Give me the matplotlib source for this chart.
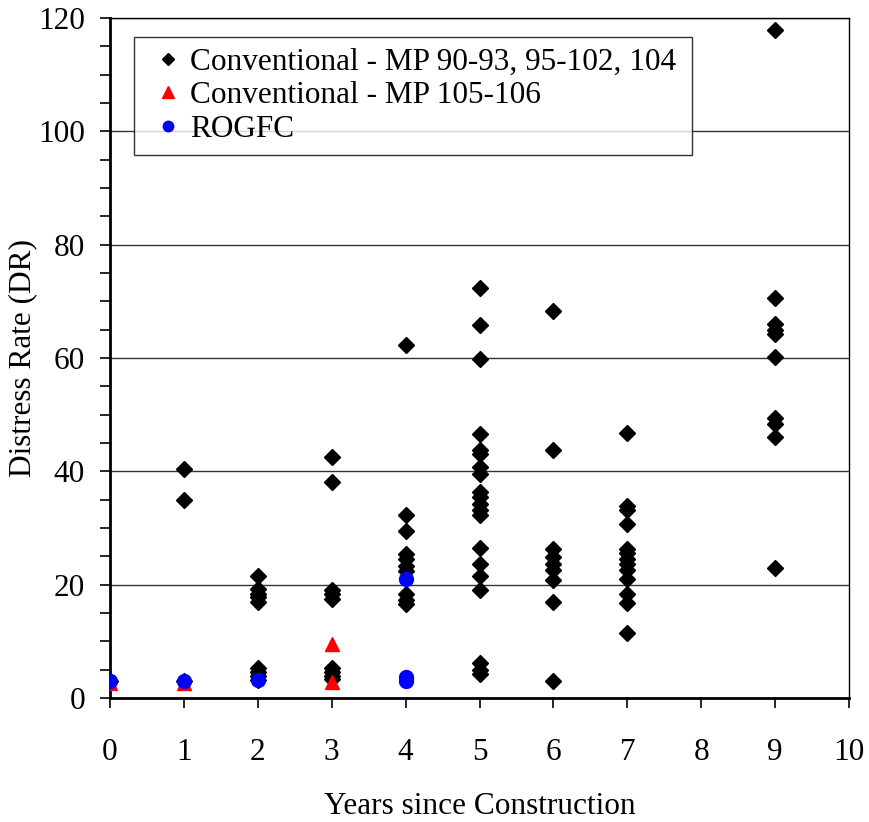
"""
Distress rate vs. years since construction
"""
import numpy as np
import matplotlib
matplotlib.use('Agg')
import matplotlib.pyplot as plt
from matplotlib.ticker import MultipleLocator

plt.rcParams['font.family'] = ['Liberation Serif', 'DejaVu Serif']

# Conventional - MP 90-93, 95-102, 104
conv_years = ([0, 1, 1, 1]
              + [2] * 9
              + [3] * 9
              + [4] * 10
              + [5] * 20
              + [6] * 9
              + [7] * 13
              + [9] * 10)
conv_dr = ([3.0, 3.0, 40.4, 34.9]
           + [21.5, 19.3, 18.4, 17.8, 16.9, 5.2, 4.5, 3.8, 3.2]
           + [42.5, 38.1, 19.1, 18.4, 17.5, 5.3, 4.6, 3.9, 3.3]
           + [62.3, 32.2, 29.4, 25.4, 24.5, 23.2, 22.4, 18.3, 17.2, 16.6]
           + [72.4, 65.9, 59.9, 46.6, 43.7, 43.0, 40.8, 39.6, 36.4, 35.5,
              34.3, 33.1, 32.2, 26.5, 23.7, 21.6, 19.0, 6.1, 4.9, 4.2]
           + [68.2, 43.8, 26.2, 24.9, 23.7, 22.5, 20.8, 16.9, 2.9]
           + [46.8, 33.8, 33.2, 30.7, 26.2, 25.5, 24.6, 23.7, 22.5, 20.9,
              18.4, 16.8, 11.4]
           + [117.8, 70.5, 66.0, 65.0, 64.3, 60.2, 49.4, 48.3, 46.1, 23.0])

# Conventional - MP 105-106
mp105_years = [0, 1, 3, 3]
mp105_dr = [2.7, 2.7, 9.5, 2.8]

# ROGFC
rogfc_years = [0, 1, 2, 4, 4, 4]
rogfc_dr = [3.0, 3.0, 3.1, 21.0, 3.6, 3.0]

FS = 22.5

fig = plt.figure(figsize=(8.69, 8.22), dpi=100)
ax = fig.add_axes([0.1266, 0.151, 0.8504, 0.8271])

ax.plot(conv_years, conv_dr, linestyle='none', marker='D', ms=8.2,
        color='black', label='Conventional - MP 90-93, 95-102, 104', zorder=3)
ax.plot(mp105_years, mp105_dr, linestyle='none', marker='^', ms=10.5,
        color='#ff0000', label='Conventional - MP 105-106', zorder=4)
ax.plot(rogfc_years, rogfc_dr, linestyle='none', marker='o', ms=10,
        color='#0000ff', label='ROGFC', zorder=5)

ax.set_xlim(0, 10)
ax.set_ylim(0, 120)
ax.xaxis.set_major_locator(MultipleLocator(1))
ax.yaxis.set_major_locator(MultipleLocator(20))
ax.yaxis.set_minor_locator(MultipleLocator(5))
ax.grid(True, axis='y', which='major', color='#333333', linewidth=1.0)
ax.set_axisbelow(True)

ax.tick_params(axis='both', which='both', direction='out', length=7,
               width=1.2, labelsize=FS, colors='black')
ax.tick_params(axis='x', pad=22)
ax.tick_params(axis='y', pad=11)
for side in ['left', 'bottom']:
    ax.spines[side].set_linewidth(2.0)
for side in ['top', 'right']:
    ax.spines[side].set_linewidth(1.0)

ax.set_xlabel('Years since Construction', fontsize=FS, labelpad=18)
ax.set_ylabel('Distress Rate (DR)', fontsize=FS)
ax.yaxis.set_label_coords(-0.099, 0.5)

leg = ax.legend(loc='upper left', bbox_to_anchor=(0.0325, 0.0, 0.755, 0.972),
                mode='expand', fontsize=FS,
                frameon=True, fancybox=False,
                handlelength=1.45, handletextpad=0.0, borderpad=0.35,
                labelspacing=0.14, borderaxespad=0)
leg.get_frame().set_edgecolor('black')
leg.get_frame().set_linewidth(1.0)
# legend marker sizes as in the original
for h, s in zip(leg.legend_handles, [6.2, 9.0, 7.5]):
    h.set_markersize(s)

fig.savefig('out.png', dpi=100, facecolor='white')
